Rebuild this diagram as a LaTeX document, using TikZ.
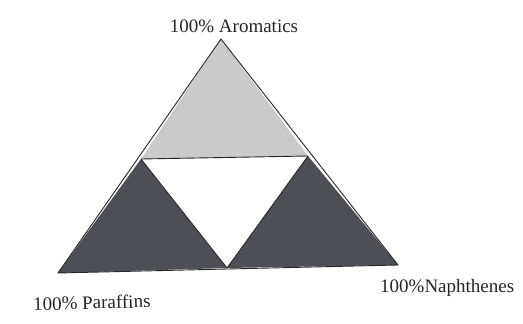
\documentclass[tikz,border=0pt]{standalone}
\usepackage{fontspec}
\setmainfont{Liberation Serif}
\definecolor{lightfill}{HTML}{CACACA}
\definecolor{darkfill}{HTML}{4E4E56}
\begin{document}
\begin{tikzpicture}[x=1pt,y=-1pt,
  lbl/.style={font=\fontsize{19}{21}\selectfont, text=black!85, inner sep=0pt},
  edge/.style={draw=black!85, line width=0.9pt, line join=miter}]
\useasboundingbox[fill=white] (0,0) rectangle (523,324);
\coordinate (A) at (221,39);
\coordinate (P) at (58,273);
\coordinate (N) at (398,265);
\coordinate (AP) at (141,159);
\coordinate (AN) at (308,156);
\coordinate (PN) at (227,268);
\fill[darkfill] (AP) -- (P) -- (PN) -- cycle;
\fill[darkfill] (AN) -- (PN) -- (N) -- cycle;
\fill[lightfill] (A) -- (AP) -- (AN) -- cycle;
\fill[white] (AP) -- (AN) -- (PN) -- cycle;
\draw[edge] (A) -- (P) -- (N) -- cycle;
\draw[edge] (AP) -- (AN);
\draw[edge] (AP) -- (PN) -- (AN);
\node[lbl] (ta) at (234,26) {100\% Aromatics};
\node[lbl, anchor=west, rotate=1.5] (tp) at (33,304) {100\% Paraffins};
\node[lbl, anchor=west] (tn) at (380,288) {100\%Naphthenes};
\end{tikzpicture}
\end{document}
